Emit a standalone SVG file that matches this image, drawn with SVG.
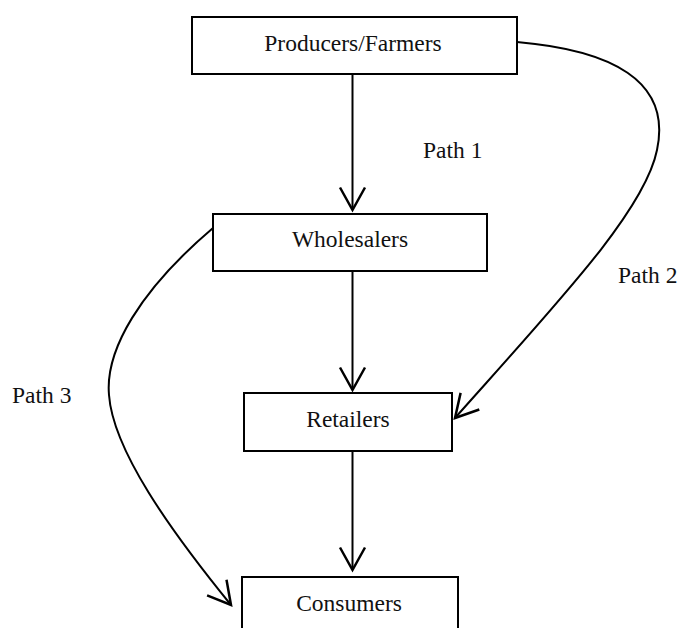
<svg xmlns="http://www.w3.org/2000/svg" width="678" height="628" viewBox="0 0 678 628">
<style>
.box{fill:#fff;stroke:#000;stroke-width:2}
.lbl{font-family:"Liberation Serif","Times New Roman",serif;font-size:23.5px;fill:#111}
.mid{text-anchor:middle}
.edge{fill:none;stroke:#000;stroke-width:2}
</style>
<defs>
<marker id="arr" markerUnits="userSpaceOnUse" markerWidth="30" markerHeight="30" viewBox="-20 -12 22 24" refX="0" refY="0" orient="auto">
<path d="M-18,-10 L0,0 L-18,10" fill="none" stroke="#000" stroke-width="2"/>
</marker>
</defs>
<rect width="678" height="628" fill="#fff"/>
<g id="connectors">
<line class="edge" x1="352.5" y1="74" x2="352.5" y2="210" marker-end="url(#arr)"/>
<line class="edge" x1="352.5" y1="271" x2="352.5" y2="390" marker-end="url(#arr)"/>
<line class="edge" x1="352.5" y1="451" x2="352.5" y2="570" marker-end="url(#arr)"/>
<path id="path2" class="edge" d="M517,42 C610,50 672,80 657,150 C645,210 560,300 455,418" marker-end="url(#arr)"/>
<path id="path3" class="edge" d="M213,228 C140,290 105,350 109,395 C113,450 170,530 231,605" marker-end="url(#arr)"/>
</g>
<g id="producers">
<rect class="box" x="192" y="17" width="325" height="57"/>
<text class="lbl mid" x="353" y="51">Producers/Farmers</text>
</g>
<g id="wholesalers">
<rect class="box" x="213" y="214" width="274" height="57"/>
<text class="lbl mid" x="350" y="247">Wholesalers</text>
</g>
<g id="retailers">
<rect class="box" x="244" y="393" width="208" height="58"/>
<text class="lbl mid" x="348" y="427">Retailers</text>
</g>
<g id="consumers">
<rect class="box" x="242" y="577" width="216" height="70"/>
<text class="lbl mid" x="349" y="611">Consumers</text>
</g>
<g id="labels">
<text class="lbl" x="423" y="158">Path 1</text>
<text class="lbl" x="618" y="283">Path 2</text>
<text class="lbl" x="12" y="403">Path 3</text>
</g>
</svg>
